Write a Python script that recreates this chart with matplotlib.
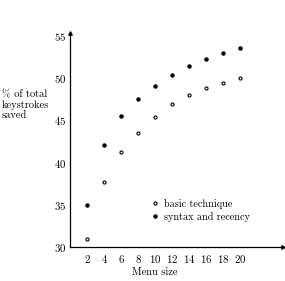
import matplotlib
matplotlib.use("Agg")
import matplotlib.pyplot as plt

menu_size = [2, 4, 6, 8, 10, 12, 14, 16, 18, 20]
basic = [30.9, 37.7, 41.2, 43.5, 45.4, 47.0, 48.0, 48.9, 49.5, 50.1]
syntax_recency = [35.0, 42.1, 45.5, 47.6, 49.1, 50.4, 51.5, 52.3, 53.0, 53.6]
x_ticks = [2, 4, 6, 8, 10, 12, 14, 16, 18, 20]
y_ticks = [30, 35, 40, 45, 50, 55]

plt.rcParams['font.family'] = ['cmr10', 'DejaVu Serif']
plt.rcParams['axes.formatter.use_mathtext'] = True
plt.rcParams['mathtext.fontset'] = 'cm'

fig = plt.figure(figsize=(2.85, 2.81), dpi=100)
ax = fig.add_axes([70/285, 1 - 246.7/281, (283-70)/285, (246.7-33)/281])

ax.plot(menu_size, basic, linestyle='none', marker='o', markersize=2.2,
        markerfacecolor='white', markeredgecolor='black', markeredgewidth=0.8,
        label='basic technique')
ax.plot(menu_size, syntax_recency, linestyle='none', marker='o', markersize=2.2,
        markerfacecolor='black', markeredgecolor='black',
        label='syntax and recency')

ax.set_xlim(0, 25)
ax.set_ylim(30, 55.4)
ax.set_xticks(x_ticks)
ax.set_yticks(y_ticks)
ax.tick_params(length=0, labelsize=7.8)
ax.tick_params(axis='x', pad=4.5)
ax.tick_params(axis='y', pad=2.5)
for s in ['top', 'right']:
    ax.spines[s].set_visible(False)
for s in ['left', 'bottom']:
    ax.spines[s].set_linewidth(0.9)
ax.plot(1, 0, marker='>', color='black', markersize=2.5, transform=ax.transAxes, clip_on=False)
ax.plot(0, 1, marker='^', color='black', markersize=2.5, transform=ax.transAxes, clip_on=False)

leg = ax.legend(loc='upper left', bbox_to_anchor=((152-70)/213, (246.7-199)/213.7),
                frameon=False, fontsize=7.3, handlelength=0.5, handletextpad=0.7,
                borderpad=0, labelspacing=0.25, borderaxespad=0)

fig.text(2/285, 1 - 105/281, '% of total\nkeystrokes\nsaved', ha='left', va='center',
         fontsize=7.5, linespacing=1.15)
fig.text(155/285, 1 - 272/281, 'Menu size', ha='center', va='center', fontsize=7.5)

fig.savefig('out.png', dpi=100, facecolor='white')
